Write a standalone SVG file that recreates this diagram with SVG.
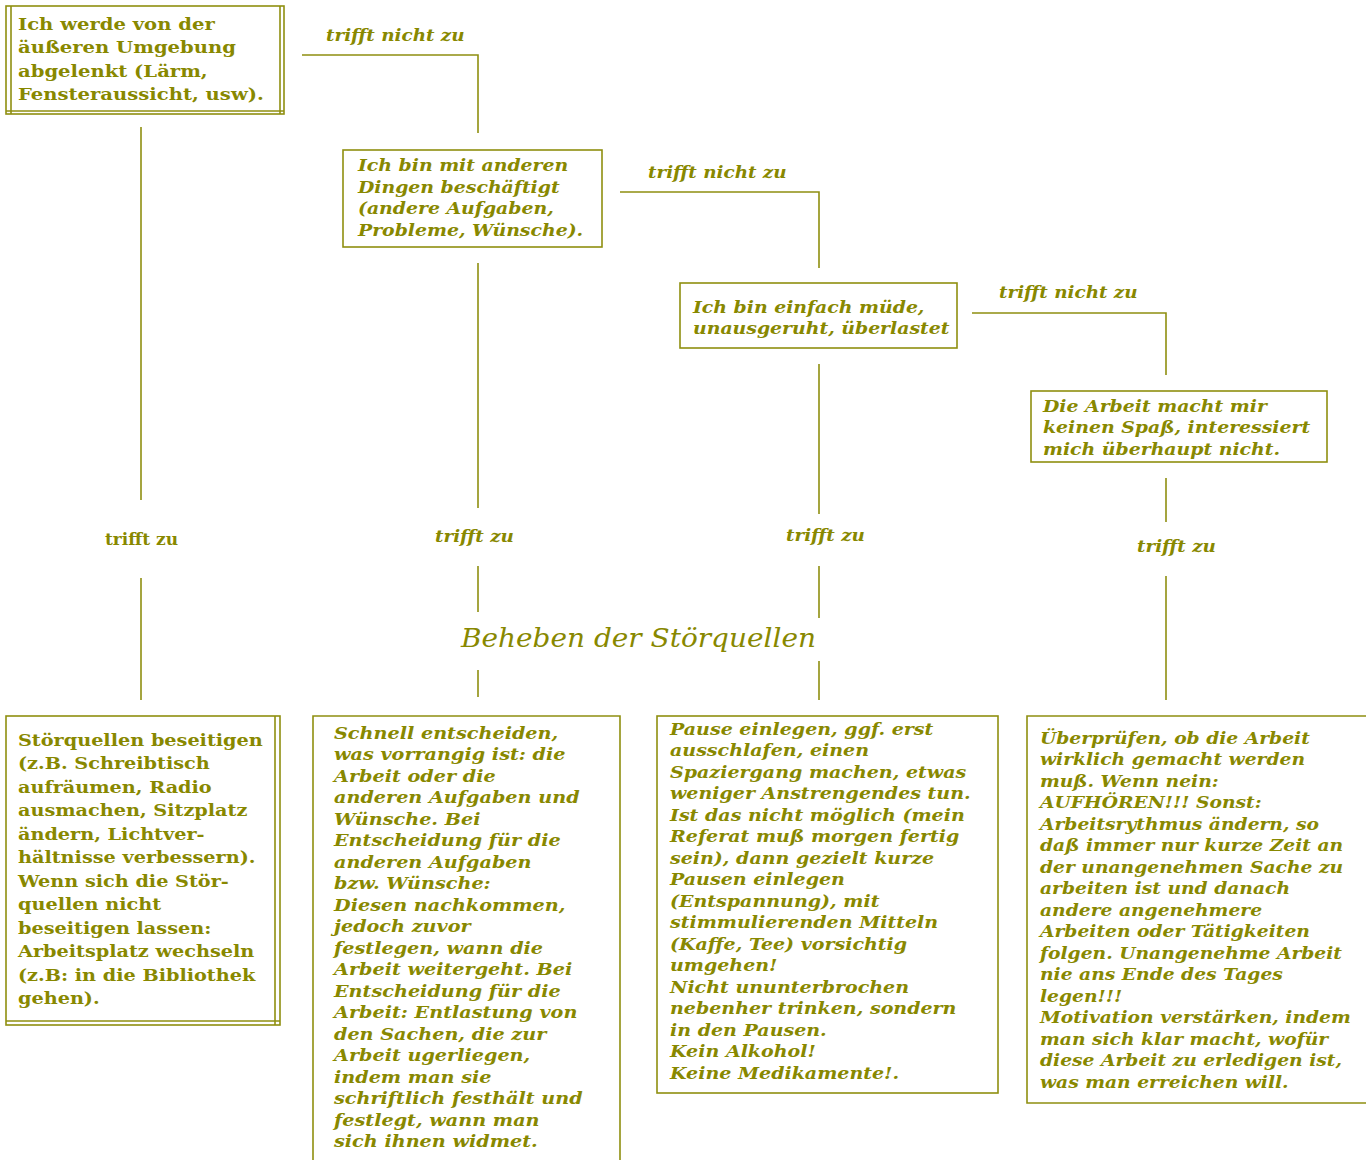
<svg xmlns="http://www.w3.org/2000/svg" width="1366" height="1160" viewBox="0 0 1366 1160">
<style>
.bg{fill:#ffffff}
.box{fill:none;stroke:#8f8f10;stroke-width:1.6}
.ln{fill:none;stroke:#8f8f10;stroke-width:1.6}
.up{font-family:"DejaVu Serif","Liberation Serif",serif;font-weight:bold;font-size:17.5px;fill:#888800}
.it{font-family:"DejaVu Serif","Liberation Serif",serif;font-weight:bold;font-style:italic;font-size:17px;fill:#888800}
.title{font-family:"DejaVu Serif","Liberation Serif",serif;font-style:italic;font-size:26px;fill:#888800}
</style>
<rect class="bg" x="0" y="0" width="1366" height="1160"/>
<g id="connectors">
  <polyline class="ln" points="302,55 478,55 478,133"/>
  <polyline class="ln" points="620,192 819,192 819,268"/>
  <polyline class="ln" points="972,313 1166,313 1166,375"/>
  <line class="ln" x1="141" y1="127" x2="141" y2="500"/>
  <line class="ln" x1="141" y1="578" x2="141" y2="700"/>
  <line class="ln" x1="478" y1="263" x2="478" y2="508"/>
  <line class="ln" x1="478" y1="566" x2="478" y2="612"/>
  <line class="ln" x1="478" y1="670" x2="478" y2="697"/>
  <line class="ln" x1="819" y1="364" x2="819" y2="514"/>
  <line class="ln" x1="819" y1="566" x2="819" y2="618"/>
  <line class="ln" x1="819" y1="661" x2="819" y2="700"/>
  <line class="ln" x1="1166" y1="478" x2="1166" y2="522"/>
  <line class="ln" x1="1166" y1="576" x2="1166" y2="700"/>
  <text class="it" x="326" y="41" transform="translate(326 0) scale(1.08 1) translate(-326 0)">trifft nicht zu</text>
  <text class="it" x="648" y="178" transform="translate(648 0) scale(1.08 1) translate(-648 0)">trifft nicht zu</text>
  <text class="it" x="999" y="298" transform="translate(999 0) scale(1.08 1) translate(-999 0)">trifft nicht zu</text>
  <text class="up" x="105" y="545" style="font-size:17px">trifft zu</text>
  <text class="it" x="435" y="542" transform="translate(435 0) scale(1.08 1) translate(-435 0)">trifft zu</text>
  <text class="it" x="786" y="541" transform="translate(786 0) scale(1.08 1) translate(-786 0)">trifft zu</text>
  <text class="it" x="1137" y="552" transform="translate(1137 0) scale(1.08 1) translate(-1137 0)">trifft zu</text>
</g>
<g id="n1">
  <rect class="box" x="6" y="6" width="278" height="108"/>
  <line class="ln" x1="11" y1="6" x2="11" y2="114"/>
  <line class="ln" x1="280" y1="6" x2="280" y2="114"/>
  <line class="ln" x1="6" y1="111" x2="284" y2="111"/>
  <g transform="translate(18 0) scale(1.12 1) translate(-18 0)">
  <text class="up" x="18" y="30">Ich werde von der</text>
  <text class="up" x="18" y="53.5">äußeren Umgebung</text>
  <text class="up" x="18" y="77">abgelenkt (Lärm,</text>
  <text class="up" x="18" y="100.5">Fensteraussicht, usw).</text>
  </g>
</g>
<g id="n2">
  <rect class="box" x="343" y="150" width="259" height="97"/>
  <g transform="translate(358 0) scale(1.11 1) translate(-358 0)">
  <text class="it" x="358" y="171">Ich bin mit anderen</text>
  <text class="it" x="358" y="193">Dingen beschäftigt</text>
  <text class="it" x="358" y="214">(andere Aufgaben,</text>
  <text class="it" x="358" y="236">Probleme, Wünsche).</text>
  </g>
</g>
<g id="n3">
  <rect class="box" x="680" y="283" width="277" height="65"/>
  <g transform="translate(693 0) scale(1.11 1) translate(-693 0)">
  <text class="it" x="693" y="313">Ich bin einfach müde,</text>
  <text class="it" x="693" y="334">unausgeruht, überlastet</text>
  </g>
</g>
<g id="n4">
  <rect class="box" x="1031" y="391" width="296" height="71"/>
  <g transform="translate(1043 0) scale(1.11 1) translate(-1043 0)">
  <text class="it" x="1043" y="412">Die Arbeit macht mir</text>
  <text class="it" x="1043" y="433">keinen Spaß, interessiert</text>
  <text class="it" x="1043" y="455">mich überhaupt nicht.</text>
  </g>
</g>
<g id="title">
  <text class="title" x="461" y="647" transform="translate(461 0) scale(1.075 1) translate(-461 0)">Beheben der Störquellen</text>
</g>
<g id="n5">
  <rect class="box" x="6" y="716" width="274" height="309"/>
  <line class="ln" x1="275" y1="716" x2="275" y2="1025"/>
  <line class="ln" x1="6" y1="1021" x2="280" y2="1021"/>
  <g transform="translate(18 0) scale(1.1 1) translate(-18 0)">
  <text class="up" x="18" y="746">Störquellen beseitigen</text>
  <text class="up" x="18" y="769.5">(z.B. Schreibtisch</text>
  <text class="up" x="18" y="793">aufräumen, Radio</text>
  <text class="up" x="18" y="816.5">ausmachen, Sitzplatz</text>
  <text class="up" x="18" y="840">ändern, Lichtver-</text>
  <text class="up" x="18" y="863.5">hältnisse verbessern).</text>
  <text class="up" x="18" y="887">Wenn sich die Stör-</text>
  <text class="up" x="18" y="910.5">quellen nicht</text>
  <text class="up" x="18" y="934">beseitigen lassen:</text>
  <text class="up" x="18" y="957.5">Arbeitsplatz wechseln</text>
  <text class="up" x="18" y="981">(z.B: in die Bibliothek</text>
  <text class="up" x="18" y="1004.5">gehen).</text>
  </g>
</g>
<g id="n6">
  <polyline class="box" points="313,1162 313,716 620,716 620,1162"/>
  <g transform="translate(334 0) scale(1.13 1) translate(-334 0)">
  <text class="it" x="334" y="739">Schnell entscheiden,</text>
  <text class="it" x="334" y="760.5">was vorrangig ist: die</text>
  <text class="it" x="334" y="782">Arbeit oder die</text>
  <text class="it" x="334" y="803.5">anderen Aufgaben und</text>
  <text class="it" x="334" y="825">Wünsche. Bei</text>
  <text class="it" x="334" y="846.5">Entscheidung für die</text>
  <text class="it" x="334" y="868">anderen Aufgaben</text>
  <text class="it" x="334" y="889.5">bzw. Wünsche:</text>
  <text class="it" x="334" y="911">Diesen nachkommen,</text>
  <text class="it" x="334" y="932.5">jedoch zuvor</text>
  <text class="it" x="334" y="954">festlegen, wann die</text>
  <text class="it" x="334" y="975.5">Arbeit weitergeht. Bei</text>
  <text class="it" x="334" y="997">Entscheidung für die</text>
  <text class="it" x="334" y="1018.5">Arbeit: Entlastung von</text>
  <text class="it" x="334" y="1040">den Sachen, die zur</text>
  <text class="it" x="334" y="1061.5">Arbeit ugerliegen,</text>
  <text class="it" x="334" y="1083">indem man sie</text>
  <text class="it" x="334" y="1104.5">schriftlich festhält und</text>
  <text class="it" x="334" y="1126">festlegt, wann man</text>
  <text class="it" x="334" y="1147.5">sich ihnen widmet.</text>
  </g>
</g>
<g id="n7">
  <rect class="box" x="657" y="716" width="341" height="377"/>
  <g transform="translate(670 0) scale(1.12 1) translate(-670 0)">
  <text class="it" x="670" y="735">Pause einlegen, ggf. erst</text>
  <text class="it" x="670" y="756.5">ausschlafen, einen</text>
  <text class="it" x="670" y="778">Spaziergang machen, etwas</text>
  <text class="it" x="670" y="799.5">weniger Anstrengendes tun.</text>
  <text class="it" x="670" y="821">Ist das nicht möglich (mein</text>
  <text class="it" x="670" y="842.5">Referat muß morgen fertig</text>
  <text class="it" x="670" y="864">sein), dann gezielt kurze</text>
  <text class="it" x="670" y="885.5">Pausen einlegen</text>
  <text class="it" x="670" y="907">(Entspannung), mit</text>
  <text class="it" x="670" y="928.5">stimmulierenden Mitteln</text>
  <text class="it" x="670" y="950">(Kaffe, Tee) vorsichtig</text>
  <text class="it" x="670" y="971.5">umgehen!</text>
  <text class="it" x="670" y="993">Nicht ununterbrochen</text>
  <text class="it" x="670" y="1014.5">nebenher trinken, sondern</text>
  <text class="it" x="670" y="1036">in den Pausen.</text>
  <text class="it" x="670" y="1057.5">Kein Alkohol!</text>
  <text class="it" x="670" y="1079">Keine Medikamente!.</text>
  </g>
</g>
<g id="n8">
  <polyline class="box" points="1368,716 1027,716 1027,1103 1368,1103"/>
  <g transform="translate(1040 0) scale(1.1 1) translate(-1040 0)">
  <text class="it" x="1040" y="744">Überprüfen, ob die Arbeit</text>
  <text class="it" x="1040" y="765.5">wirklich gemacht werden</text>
  <text class="it" x="1040" y="787">muß. Wenn nein:</text>
  <text class="it" x="1040" y="808.5">AUFHÖREN!!! Sonst:</text>
  <text class="it" x="1040" y="830">Arbeitsrythmus ändern, so</text>
  <text class="it" x="1040" y="851.5">daß immer nur kurze Zeit an</text>
  <text class="it" x="1040" y="873">der unangenehmen Sache zu</text>
  <text class="it" x="1040" y="894.5">arbeiten ist und danach</text>
  <text class="it" x="1040" y="916">andere angenehmere</text>
  <text class="it" x="1040" y="937.5">Arbeiten oder Tätigkeiten</text>
  <text class="it" x="1040" y="959">folgen. Unangenehme Arbeit</text>
  <text class="it" x="1040" y="980.5">nie ans Ende des Tages</text>
  <text class="it" x="1040" y="1002">legen!!!</text>
  <text class="it" x="1040" y="1023.5">Motivation verstärken, indem</text>
  <text class="it" x="1040" y="1045">man sich klar macht, wofür</text>
  <text class="it" x="1040" y="1066.5">diese Arbeit zu erledigen ist,</text>
  <text class="it" x="1040" y="1088">was man erreichen will.</text>
  </g>
</g>
</svg>
